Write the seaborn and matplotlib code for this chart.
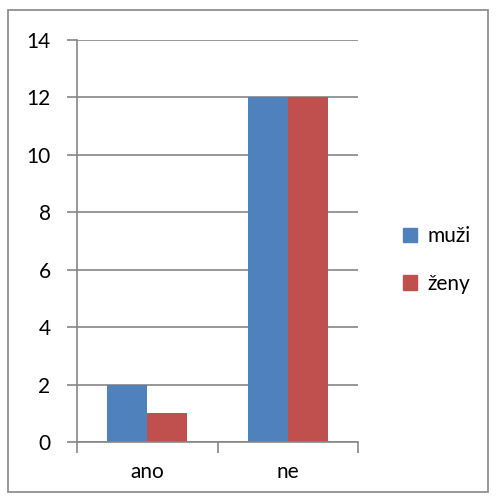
import seaborn as sns
import matplotlib.pyplot as plt
import matplotlib.patches as mpatches
import pandas as pd

categories = ["ano", "ne"]
series = ["muži", "ženy"]
muzi = [2, 12]
zeny = [1, 12]
yticks = [0, 2, 4, 6, 8, 10, 12, 14]

colors = {"muži": "#4F81BD", "ženy": "#C0504D"}
grey = "#868686"

df = pd.DataFrame({
    "odpoved": categories * 2,
    "pohlavi": [series[0]] * len(categories) + [series[1]] * len(categories),
    "pocet": muzi + zeny,
})

sns.set_style("white")
plt.rcParams["font.family"] = ["Lato", "DejaVu Sans"]
plt.rcParams["text.color"] = "black"
plt.rcParams["xtick.labelcolor"] = "black"
plt.rcParams["ytick.labelcolor"] = "black"

fig = plt.figure(figsize=(4.96, 5.01), dpi=100)
ax = fig.add_axes([77 / 496, 59 / 501, 281 / 496, 402 / 501])

sns.barplot(data=df, x="odpoved", y="pocet", hue="pohlavi", palette=colors,
            width=80 / 140, gap=0, saturation=1, linewidth=0, ax=ax, legend=False)

ax.set_ylim(0, 14)
ax.set_xlim(-0.5, 1.5)
ax.set_yticks(yticks)
ax.yaxis.grid(True, color=grey, linewidth=1.2)
ax.set_axisbelow(True)
ax.set_xlabel("")
ax.set_ylabel("")
for s in ["top", "right"]:
    ax.spines[s].set_visible(False)
for s in ["left", "bottom"]:
    ax.spines[s].set_color(grey)
    ax.spines[s].set_linewidth(1.2)

ax.tick_params(axis="y", which="major", left=True, length=7, width=1.2,
               color=grey, labelsize=15, pad=12)
ax.set_xticks([0, 1])
ax.set_xticklabels(categories)
ax.tick_params(axis="x", which="major", bottom=False, labelsize=15, pad=11)
ax.set_xticks([-0.5, 0.5, 1.5], minor=True)
ax.tick_params(axis="x", which="minor", bottom=True, length=8, width=1.2,
               color=grey)

handles = [mpatches.Patch(color=colors[s], label=s) for s in series]
fig.legend(handles=handles, loc="center left", bbox_to_anchor=(384 / 496, 1 - 260 / 501),
           frameon=False, fontsize=15, handlelength=0.7, handleheight=0.7,
           handletextpad=0.5, labelspacing=1.3)

fig.patches.append(mpatches.Rectangle((8 / 496, 9 / 501), 480 / 496, 482 / 501,
                                      transform=fig.transFigure, fill=False,
                                      edgecolor=grey, linewidth=1.2))

fig.savefig("out.png", dpi=100)
